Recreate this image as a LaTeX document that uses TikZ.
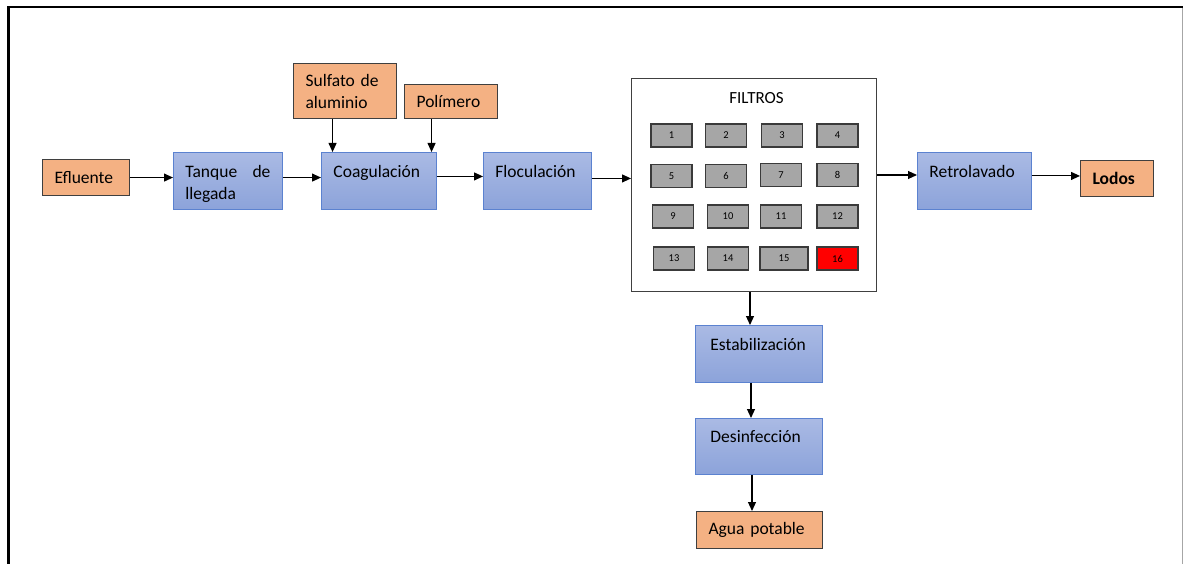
\documentclass[tikz,border=0pt]{standalone}
\usepackage{fontspec}
\setmainfont{Carlito}
\usetikzlibrary{arrows.meta}
\definecolor{btop}{HTML}{AABAE4}
\definecolor{bbot}{HTML}{8CA3DA}
\definecolor{bedge}{HTML}{5B82D0}
\definecolor{ofill}{HTML}{F4B183}
\definecolor{oedge}{HTML}{3F3F3F}
\definecolor{ffill}{HTML}{A6A6A6}
\definecolor{fedge}{HTML}{3A3A3A}
\newcommand\mainsize{\fontsize{17.5pt}{22pt}\selectfont}
\newcommand\smallsize{\fontsize{10.5pt}{12pt}\selectfont}
\tikzset{
  stage/.style={draw=bedge, line width=0.9pt, top color=btop, bottom color=bbot,
    anchor=north west, inner xsep=12pt, inner ysep=0pt,
    text height=25pt, text depth=32pt, align=left, font=\mainsize},
  io/.style={draw=oedge, line width=1.1pt, fill=ofill, anchor=north west,
    inner xsep=12pt, inner ysep=0pt, align=left, font=\mainsize},
  filt/.style={draw=fedge, line width=1.1pt, fill=ffill, minimum width=41pt,
    minimum height=23pt, inner sep=0pt, font=\smallsize},
  arr/.style={line width=1.1pt, -{Triangle[length=9pt,width=8pt]}}
}
\begin{document}
\begin{tikzpicture}[x=1pt,y=-1pt]
\useasboundingbox (0,0) rectangle (1183,564);
% frame
\draw[line width=2.5pt] (8.5,564) -- (8.5,7) -- (1183,7);
\draw[black!35, line width=1pt] (1182,8) -- (1182,564);

% inputs
\node[io, text width=63pt, minimum height=36pt] (efl) at (42,159) {Efluente};
\node[io, text width=79pt, minimum height=55pt] (sulf) at (293,63) {Sulfato de\\aluminio};
\node[io, text width=69pt, minimum height=34pt] (pol) at (404,84) {Polímero};

% process stages
\node[stage, text width=85pt] (tanq) at (173,152) {\parbox[t]{85pt}{Tanque\hfill de\\llegada}};
\node[stage, text width=91pt] (coag) at (321,152) {Coagulación};
\node[stage, text width=84pt] (floc) at (483,152) {Floculación};

% filter bank
\node[draw=black!75, line width=1.2pt, fill=white, anchor=north west, inner sep=0pt,
  text width=245pt, align=center, text height=24.5pt, text depth=188.5pt,
  font=\fontsize{17pt}{20pt}\selectfont] (filt) at (631,78) {\hspace*{5pt}FILTROS};
\node[filt] (f1) at (671.5,135.5) {1};
\node[filt] (f2) at (726,135.5) {2};
\node[filt] (f3) at (782,135.5) {3};
\node[filt] (f4) at (837.5,135.5) {4};
\node[filt] (f5) at (671.5,176) {5};
\node[filt] (f6) at (726,176) {6};
\node[filt] (f7) at (781,175) {7};
\node[filt] (f8) at (837.5,175) {8};
\node[filt] (f9) at (673,216.5) {9};
\node[filt] (f10) at (728,216.5) {10};
\node[filt] (f11) at (781,216.5) {11};
\node[filt] (f12) at (837.5,216.5) {12};
\node[filt] (f13) at (674,258.5) {13};
\node[filt] (f14) at (728,258.5) {14};
\node[filt, minimum width=48pt] (f15) at (784,258.5) {15};
\node[filt, fill=red] (f16) at (837.5,258.5) {16};

\node[stage, text width=90pt] (retro) at (917,152) {Retrolavado};
\node[io, text width=49pt, minimum height=36pt, font=\mainsize\bfseries] (lodos) at (1080,160) {Lodos};

\node[stage, inner xsep=15pt, text width=97pt] (estab) at (695,325) {Estabilización};
\node[stage, inner xsep=15pt, text width=97pt, text height=24pt, text depth=32pt] (desinf) at (695,418) {Desinfección};
\node[io, text width=102pt, minimum height=37pt] (agua) at (696,511) {Agua potable};

% connectors
\draw[arr] (efl.east) -- (efl.east -| tanq.west);
\draw[arr] (tanq.east |- efl.east) -- (coag.west |- efl.east);
\draw[arr] ([yshift=4.5pt]coag.east) -- ([yshift=4.5pt]coag.east -| floc.west);
\draw[arr] ([yshift=2.5pt]floc.east) -- ([yshift=2.5pt]floc.east -| filt.west);
\draw[arr] ([xshift=-12.5pt]sulf.south) -- ([xshift=-12.5pt]sulf.south |- coag.north);
\draw[arr] ([xshift=-19.5pt]pol.south) -- ([xshift=-19.5pt]pol.south |- coag.north);
\draw[arr] (filt.east |- f7) -- (retro.west |- f7);
\draw[arr] ([yshift=5pt]retro.east) -- ([yshift=5pt]retro.east -| lodos.west);
\draw[arr] (filt.south -| 750,0) -- (estab.north -| 750,0);
\draw[arr] (estab.south -| 751,0) -- (desinf.north -| 751,0);
\draw[arr] (desinf.south -| 752,0) -- (agua.north -| 752,0);
\end{tikzpicture}
\end{document}
